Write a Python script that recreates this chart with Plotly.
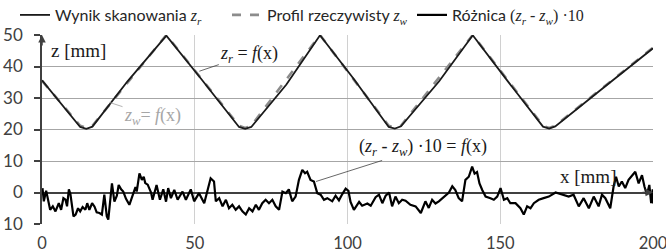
import plotly.graph_objects as go

# ---- data ----
# real profile z_w (vertices), mm
zw_x = [0, 12.5, 14.5, 16.5, 40.7, 64.5, 66.5, 68.5, 91, 113.5, 115.5, 117.5, 141, 164, 166, 168, 200]
zw_z = [35.5, 21.2, 20.5, 21.2, 50, 21.2, 20.5, 21.2, 50, 21.2, 20.5, 21.2, 50, 21.2, 20.5, 21.2, 46]

# scan result z_r (vertices), mm
zr_x = [0, 6, 12.5, 14.5, 16.5, 28, 40.7, 52, 64.5, 66.5, 68.5, 80, 91, 102, 113.5, 115.5, 117.5, 130, 141, 152, 164, 166, 168, 185, 200]
zr_z = [35.6, 28.6, 20.8, 20.2, 20.9, 35.3, 49.8, 36.2, 20.8, 20.2, 20.8, 34.3, 49.9, 36.1, 20.8, 20.3, 21.0, 35.3, 49.9, 35.9, 20.9, 20.3, 21.0, 34.2, 45.8]

# difference (z_r - z_w)*10
d_x = [0.16, 0.6, 1.36, 2.67, 3.54, 4.41, 5.5, 6.26, 7.0, 7.7, 8.2, 8.8, 9.3, 9.9, 10.3, 11.0, 11.8, 12.5,
       13.3, 14.2, 14.8, 15.5, 16.4, 17.2, 17.9, 18.8, 19.6, 20.4, 21.2, 21.7, 22.9, 23.7, 24.5, 25.1, 25.9,
       26.6, 27.5, 28.6, 29.7, 30.6, 31.0, 31.9, 32.7, 33.3, 33.8, 34.6, 35.7, 36.2, 37.5, 38.6, 39.7, 40.6,
       41.3, 42.2, 43.3, 44.4, 46.0, 47.1, 48.7, 49.8, 51.4, 53.1, 55.2, 56.3, 56.9, 58.0, 59.1, 60.2, 61.2,
       62.3, 63.4, 64.5, 65.6, 66.7, 67.8, 68.9, 70.0, 71.0, 72.1, 73.2, 74.3, 75.4, 76.5, 77.6, 78.7, 79.8,
       80.8, 81.9, 83.0, 84.1, 85.2, 86.1, 86.8, 87.9, 89.0, 90.1, 91.2, 92.3, 93.4, 95.0, 96.1, 97.2, 98.3,
       99.4, 100.3, 101.0, 102.1, 103.8, 104.8, 106.5, 107.6, 109.2, 110.3, 111.4, 112.5, 113.6, 114.6, 115.7,
       116.8, 117.9, 119.0, 120.6, 122.3, 124.0, 125.5, 126.6, 127.7, 128.8, 129.9, 131.5, 133.2, 134.3, 135.3,
       136.4, 137.5, 138.6, 139.7, 140.8, 141.6, 142.4, 143.2, 144.1, 145.2, 146.8, 147.9, 149.0, 150.1, 151.2,
       152.3, 153.3, 155.0, 156.6, 157.7, 158.8, 159.9, 161.0, 162.6, 164.2, 165.9, 168.1, 170.2, 172.4, 174.0,
       175.7, 177.3, 179.0, 180.6, 182.2, 183.3, 184.4, 186.0, 187.1, 187.9, 188.8, 189.8, 190.9, 192.0, 193.1,
       194.2, 195.3, 196.4, 197.2, 198.0, 198.8, 199.4, 199.9, 200.0]
d_v = [1.4, -2.8, 0.6, -5.5, -4.4, -6.0, -3.4, -5.5, -1.8, -2.3, -4.4, 1.0, -0.5, -5.0, -7.6, -7.0, -5.0, -6.0,
       -4.6, -5.5, -3.4, -5.5, -3.4, -4.5, -6.3, -6.5, -7.0, -0.7, -7.5, -8.6, 2.9, -2.9, -1.0, 2.4, 1.0,
       0.3, -2.0, -3.9, -1.0, 1.7, 0.3, 6.1, 4.0, 5.0, 3.0, 2.5, 0.0, -2.3, 2.4, -2.3, 1.0, -2.9,
       1.4, -1.8, 0.8, -2.3, 0.3, -2.3, 1.0, -2.8, -0.2, -3.4, 4.5, 3.5, -2.8, -1.8, -4.4, -2.3, -5.0,
       -3.9, -5.5, -4.4, -6.0, -7.0, -5.0, -6.0, -3.9, -5.5, -3.4, -2.3, -3.4, -2.3, -4.4, -5.5, 0.3, -0.2,
       1.0, -2.8, -1.3, 4.0, 7.2, 6.1, 6.6, 4.0, 3.5, -0.2, -0.7, -2.3, -1.8, -2.8, -1.0, -2.5, -0.5,
       1.2, 0.5, -3.0, -5.5, -3.0, -4.2, -3.5, -4.2, -1.5, -0.7, -3.4, -1.0, 0.0, -4.4, -1.3,
       -3.4, -2.3, -2.6, -3.9, -4.4, -6.5, -2.8, -4.9, -2.3, -3.5, -2.8, -1.3, 0.0, 2.0, 0.8,
       -1.8, -2.8, 4.0, 5.0, 8.2, 6.0, 6.5, 2.9, 0.8, -1.3, -1.8, -2.3, -1.3, 1.4, -2.3,
       -1.8, -3.4, -3.4, -5.0, -7.0, -4.4, -5.0, -3.4, -2.3, -1.8, -1.3, 0.0, -0.7, -1.3, -0.7,
       -4.4, -1.8, -5.0, -1.3, -4.4, -0.7, -1.8, -5.0, 1.9, 5.0, 1.9, 3.5, 1.4, 4.0, 5.5,
       6.6, 2.9, 5.5, 1.9, -0.7, 2.4, -3.4, 1.0, -3.5]

y_ticks = [-10, 0, 10, 20, 30, 40, 50]
y_ticktext = ["10", "0", "10", "20", "30", "40", "50"]
x_ticks = [0, 50, 100, 150, 200]

SERIF = "Liberation Serif"
SANS = "Lato"
W, H = 666, 252
# plot area in pixels: x 42..653, y 35..224
L, T = 42, 35
R, B = W - 653, H - 224
PW, PH = W - L - R, H - T - B

def ser(s):
    return f"<span style='font-family:{SERIF}'>{s}</span>"

fig = go.Figure()
fig.add_trace(go.Scatter(
    x=zw_x, y=zw_z, mode="lines", showlegend=True,
    line=dict(color="#8c8c8c", width=2.6, dash="dash"),
    name="Profil rzeczywisty " + ser("<i>z<sub>w</sub></i>"), legend="legend2"))
fig.add_trace(go.Scatter(
    x=zr_x, y=zr_z, mode="lines", showlegend=True,
    line=dict(color="#1a1a1a", width=1.8),
    name="Wynik skanowania " + ser("<i>z<sub>r</sub></i>"), legend="legend"))
fig.add_trace(go.Scatter(
    x=d_x, y=d_v, mode="lines", showlegend=True,
    line=dict(color="#000000", width=2.2),
    name="Różnica " + ser("(<i>z<sub>r</sub></i> - <i>z<sub>w</sub></i>) ·10"), legend="legend3"))

def px_x(p):  # pixel -> paper x
    return (p - L) / PW

leg_y = 1 + (T - 15) / PH
leg_common = dict(orientation="h", yanchor="middle", y=leg_y, xanchor="left",
                  font=dict(family=SANS, size=16, color="#262626"),
                  bgcolor="rgba(0,0,0,0)", itemwidth=30)
fig.update_layout(
    width=W, height=H, showlegend=True,
    margin=dict(l=L, r=R, t=T, b=B, autoexpand=False),
    plot_bgcolor="white", paper_bgcolor="white",
    legend=dict(x=px_x(15), **leg_common),
    legend2=dict(x=px_x(227), **leg_common),
    legend3=dict(x=px_x(412), **leg_common),
    xaxis=dict(range=[0, 200], tickvals=x_ticks, showgrid=True, gridcolor="#d0d0d0", gridwidth=1,
               zeroline=False, showline=False, ticks="", automargin=False, ticklabeloverflow="allow",
               tickfont=dict(family=SANS, size=16.5, color="#404040"), ticklabelstandoff=7),
    yaxis=dict(range=[-10, 50], tickvals=y_ticks, ticktext=y_ticktext, showgrid=True, automargin=False,
               gridcolor="#a6a6a6", gridwidth=1, zeroline=True, zerolinecolor="#404040", zerolinewidth=2,
               showline=True, linecolor="#404040", linewidth=1.5, ticks="outside", ticklen=6,
               tickcolor="#404040", tickwidth=1.5,
               tickfont=dict(family=SANS, size=17, color="#404040"), ticklabelstandoff=8),
)

ann_font = dict(family=SERIF, size=19, color="#1a1a1a")
fig.add_annotation(x=2.45, y=45, xref="x", yref="y", text="z [mm]", showarrow=False,
                   xanchor="left", font=ann_font)
fig.add_annotation(x=168.8, y=5.1, xref="x", yref="y", text="x [mm]", showarrow=False,
                   xanchor="left", font=ann_font)
fig.add_annotation(x=51.5, y=38.5, xref="x", yref="y", text="<i>z<sub>r</sub></i> = <i>f</i>(x)",
                   showarrow=True, arrowhead=0, arrowwidth=0.8, arrowcolor="#404040",
                   ax=50, ay=-17, font=dict(family=SERIF, size=18, color="#1a1a1a"))
fig.add_annotation(x=22.1, y=28.6, xref="x", yref="y", text="<i>z<sub>w</sub></i>= <i>f</i>(x)",
                   showarrow=True, arrowhead=0, arrowwidth=0.8, arrowcolor="#a0a0a0",
                   ax=43, ay=14, font=dict(family=SERIF, size=18, color="#a6a6a6"))
fig.add_annotation(x=89.7, y=3.5, xref="x", yref="y",
                   text="(<i>z<sub>r</sub></i> - <i>z<sub>w</sub></i>) ·10 = <i>f</i>(x)",
                   showarrow=True, arrowhead=0, arrowwidth=0.8, arrowcolor="#404040",
                   ax=107, ay=-34, font=dict(family=SERIF, size=18, color="#1a1a1a"))
# axis arrows
fig.add_annotation(x=0, y=50, xref="x", yref="y", text="", showarrow=True, arrowhead=2,
                   arrowsize=1, arrowwidth=1.5, arrowcolor="#404040", ax=0, ay=12)
fig.add_annotation(x=200, y=0, xref="x", yref="y", text="", showarrow=True, arrowhead=2,
                   arrowsize=1, arrowwidth=1.5, arrowcolor="#404040", ax=-12, ay=0)

# remove the default page margin so the figure sits at the window's top-left corner
fig.write_html("out.html", config={"displayModeBar": False},
               post_script="document.body.style.margin='0';")
